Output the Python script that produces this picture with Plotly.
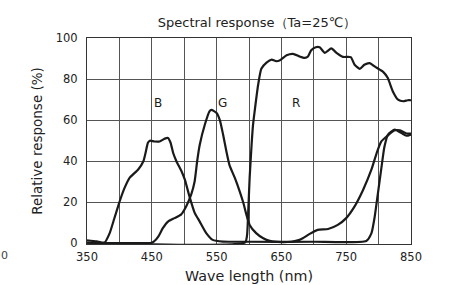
import plotly.graph_objects as go

# Blue channel
b_x = [350, 365, 377, 385, 392, 398, 401, 408, 416, 429, 437, 441, 444, 447, 454, 462, 470, 475,
       479, 483, 488, 496, 501, 508, 516, 524, 534, 544, 560, 600, 700, 781, 789, 794, 799, 804,
       809, 814.5, 825, 835, 843, 850]
b_y = [1.5, 1.0, 0.4, 5, 12, 18, 21, 27, 32, 36, 40, 45, 49, 50, 49.6, 49.6, 51, 51.3,
       49, 44, 40, 35, 31, 23, 15, 10.6, 5, 1.7, 0.9, 0.8, 0.8, 1.2, 5, 13, 24.5, 36,
       47, 53, 55.4, 53.8, 52.4, 53]

# Green channel
g_x = [350, 450, 453, 460, 467, 475, 485, 495, 503, 511, 516, 520, 524, 532, 539, 542, 550, 555,
       560, 565, 570, 578, 586, 591, 596, 601, 611, 622, 632, 650, 665, 678, 683, 693, 706, 722,
       737, 750, 763, 776, 789, 797, 804, 814, 824, 833, 843, 850]
g_y = [0.3, 0.3, 0.8, 3.3, 7.4, 10.6, 12.3, 14, 18, 24, 30, 40, 48, 58, 64.3, 65, 63.5, 60,
       53, 45, 38, 32, 25, 20, 14, 9, 5, 2.5, 1.2, 0.6, 0.8, 1.7, 2.5, 4.5, 6.6, 7,
       9, 12.3, 18, 26, 36, 44, 49.6, 52.5, 55, 55, 53.5, 53.4]

# Red channel
r_x = [350, 594, 597, 599, 601, 604, 606, 609, 614, 619, 627, 635, 642, 647, 658, 668, 678, 686,
       691, 696, 703, 709, 717, 727, 735, 745, 757, 763, 771, 778, 786, 797, 807, 814, 822, 830,
       838, 845, 850]
r_y = [0.3, 0.5, 4, 17, 32, 48, 57, 65, 77, 85, 88, 89.5, 88.7, 89, 91.6, 92.3, 91, 90.3,
       91, 94, 95.5, 95.5, 92.8, 94.9, 92.8, 90.8, 90.7, 87, 85, 87, 87.8, 85.5, 83.5, 80.6, 74, 70,
       69.2, 69.7, 69.7]

labels = ["B", "G", "R"]
label_x = [459, 559, 672]
label_y = [68.5, 68.5, 68.5]

x_ticks = [350, 450, 550, 650, 750, 850]
y_ticks = [0, 20, 40, 60, 80, 100]

FONT = "DejaVu Sans, Verdana, sans-serif"
ink = "#1a1a1a"

fig = go.Figure()
for xs, ys in [(b_x, b_y), (g_x, g_y), (r_x, r_y)]:
    fig.add_trace(go.Scatter(x=xs, y=ys, mode="lines",
                             line=dict(color=ink, width=2.2, shape="spline", smoothing=0.5),
                             showlegend=False, hoverinfo="skip"))

for t, lx, ly in zip(labels, label_x, label_y):
    fig.add_annotation(x=lx, y=ly, text=t, showarrow=False,
                       font=dict(family=FONT, size=12, color=ink))

fig.add_annotation(xref="paper", yref="paper", x=-0.273, y=-0.095, xanchor="left",
                   text="0", showarrow=False, font=dict(family=FONT, size=11, color="#444"))

fig.update_layout(
    width=451, height=285,
    margin=dict(l=87, r=40, t=38, b=41),
    paper_bgcolor="white", plot_bgcolor="white",
    title=dict(text="Spectral response（Ta=25℃）", x=0.57, xanchor="center",
               y=1 - 22 / 285, yanchor="middle",
               font=dict(family=FONT, size=13, color="#222")),
    font=dict(family=FONT, size=11.5, color="#222"),
)
fig.update_xaxes(range=[350, 850], tickvals=x_ticks, ticks="", showgrid=True,
                 gridcolor="#555", gridwidth=1, automargin=False, ticklabelstandoff=2,
                 minor=dict(tickvals=[400, 500, 600, 700, 800], showgrid=True,
                            gridcolor="#555", gridwidth=1, ticks=""),
                 showline=True, linecolor="#333", linewidth=1, mirror=True, zeroline=False,
                 tickfont=dict(size=11.5, color="#222"),
                 title=dict(text="Wave length (nm)", standoff=8,
                            font=dict(size=14.3, color="#222")))
fig.update_yaxes(range=[-0.3, 100], tickvals=y_ticks, ticks="", showgrid=True,
                 gridcolor="#555", gridwidth=1, automargin=False, ticklabelstandoff=6,
                 showline=True, linecolor="#333", linewidth=1, mirror=True, zeroline=False,
                 tickfont=dict(size=11.5, color="#222"),
                 title=dict(text="Relative response (%)", standoff=10,
                            font=dict(size=13.5, color="#222")))

fig.write_html("out.html", config={"displayModeBar": False},
               post_script="document.body.style.margin='0';")
